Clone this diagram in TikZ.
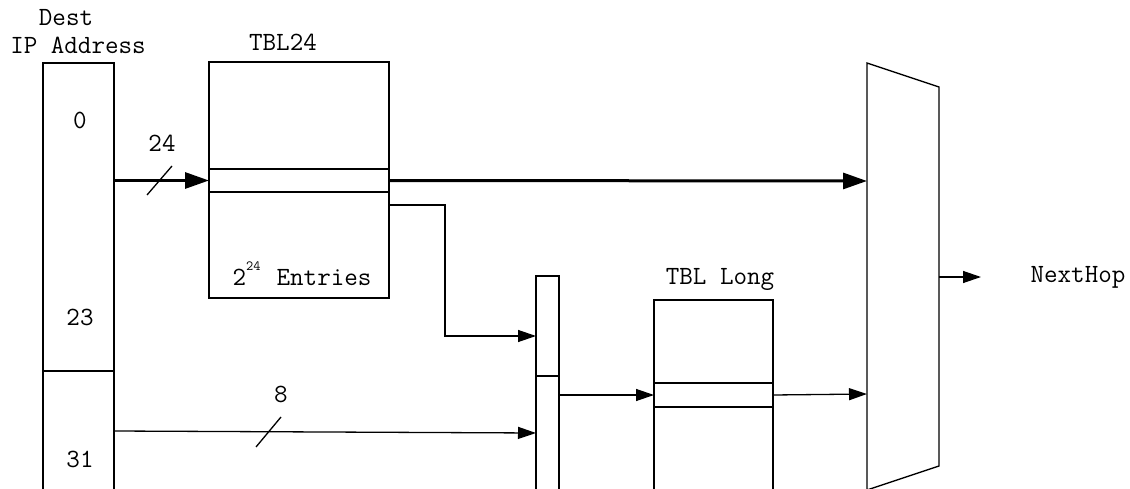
\documentclass[tikz,border=0pt]{standalone}
\usepackage{fontspec}
\usetikzlibrary{arrows.meta,calc}
\begin{document}
\begin{tikzpicture}[x=1pt,y=-1pt,line width=1.3pt,
  box/.style={draw,rectangle,inner sep=0pt,outer sep=0pt},
  lbl/.style={font=\ttfamily\fontsize{26.3}{30}\selectfont,inner sep=0pt},
  thickarr/.style={line width=3pt,-{Triangle[length=24pt,width=16pt]}},
  arr/.style={line width=1.3pt,-{Triangle[length=18pt,width=12pt]}}]
\useasboundingbox (0,0) rectangle (1130,489);
\clip (0,0) rectangle (1130,489);
% boxes
\node[box,minimum width=71,minimum height=457] (dest) at (78.5,291.5) {};
\node[box,minimum width=180,minimum height=236] (tbl24) at (299,180) {};
\node[box,minimum width=180,minimum height=23] (row24) at (299,180.5) {};
\node[box,minimum width=23,minimum height=244] (sel) at (547.5,398) {};
\node[box,minimum width=119,minimum height=220] (tlong) at (713.5,410) {};
\node[box,minimum width=119,minimum height=24] (rowL) at (713.5,395) {};
\draw (dest.west |- 0,371) -- (dest.east |- 0,371);
\draw (sel.west |- 0,376) -- (sel.east |- 0,376);
% mux trapezoid
\draw (867,63) -- (939,87) -- (939,466) -- (867,490) -- cycle;
\coordinate (mux1) at (867,181);
\coordinate (mux2) at (867,394);
\coordinate (muxout) at (939,277);
\coordinate (nhend) at (981,277);
% labels
\node[lbl] (ldest) at (66,18) {Dest};
\node[lbl] (lip) at (78,45) {IP Address};
\node[lbl] (l0) at (80,120) {0};
\node[lbl] (l23) at (80,317) {23};
\node[lbl] (l31) at (80,459) {31};
\node[lbl] (ltbl) at (283,42) {TBL24};
\node[lbl,anchor=base west] (lent) at (232,285) {2\raisebox{15pt}{\fontsize{14}{14}\selectfont 24}\hspace{16pt}Entries};
\node[lbl] (llong) at (720,279) {TBL Long};
\node[lbl] (nh) at (1078,277) {NextHop};
\node[lbl] (l24) at (162,143) {24};
\node[lbl] (l8) at (281,394) {8};
% connectors
\draw[thickarr] (dest.east |- row24.west) -- (row24.west);
\draw[thickarr] (row24.east) -- (mux1);
\draw[arr] (tbl24.east |- 0,205) -- ++(56,0) |- (sel.west |- 0,336);
\draw[arr] (dest.east |- 0,431) -- (sel.west |- 0,433);
\draw[arr] (sel.east |- rowL.west) -- (rowL.west);
\draw[arr] (rowL.east) -- (mux2);
\draw[arr] (muxout) -- (nhend);
% bus slashes
\draw (147,195) -- (172,166);
\draw (256,447) -- (281,417);
\end{tikzpicture}
\end{document}
